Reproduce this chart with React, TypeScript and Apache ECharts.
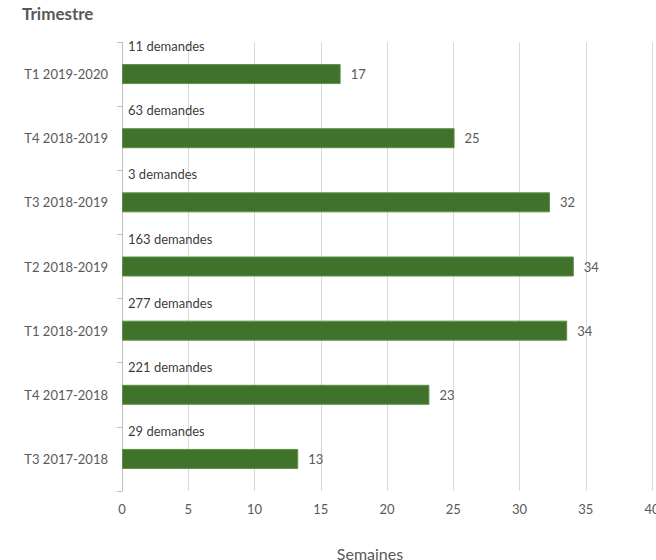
import React, { useEffect, useRef } from "react";
import * as echarts from "echarts";

const categories = [
  "T1 2019-2020",
  "T4 2018-2019",
  "T3 2018-2019",
  "T2 2018-2019",
  "T1 2018-2019",
  "T4 2017-2018",
  "T3 2017-2018",
];
const weeks = [16.5, 25.1, 32.3, 34.1, 33.6, 23.2, 13.3];
const requests = [11, 63, 3, 163, 277, 221, 29];
const xTicks = { min: 0, max: 40, interval: 5 };

const FONT = "Lato, 'Liberation Sans', sans-serif";

export default function App() {
  const ref = useRef<HTMLDivElement>(null);
  useEffect(() => {
    if (!ref.current) return;
    const chart = echarts.init(ref.current, undefined, { renderer: "svg" });
    chart.setOption({
      animation: false,
      textStyle: { fontFamily: FONT },
      grid: {
        left: 122,
        right: 4,
        top: 42,
        bottom: 69,
        containLabel: false,
        outerBoundsMode: "none",
      },
      xAxis: {
        type: "value",
        min: xTicks.min,
        max: xTicks.max,
        interval: xTicks.interval,
        axisLine: { show: false },
        axisTick: { show: false },
        axisLabel: { color: "#595959", fontSize: 13, margin: 11, fontFamily: FONT, hideOverlap: false },
        splitLine: { show: true, lineStyle: { color: "#d9d9d9", width: 1 } },
      },
      yAxis: {
        type: "category",
        data: categories,
        inverse: true,
        axisLine: { show: true, lineStyle: { color: "#bfbfbf" } },
        axisTick: { show: true, length: 5, lineStyle: { color: "#bfbfbf" } },
        axisLabel: { color: "#595959", fontSize: 13, margin: 14, fontFamily: FONT },
        splitLine: { show: false },
      },
      graphic: [
        {
          type: "text",
          left: 22,
          top: 5,
          style: {
            text: "Trimestre",
            fill: "#595959",
            font: `bold 17px ${FONT}`,
          },
        },
        {
          type: "text",
          x: 370,
          y: 545,
          style: {
            text: "Semaines",
            fill: "#595959",
            font: `16px ${FONT}`,
            textAlign: "center",
            textVerticalAlign: "top",
          },
        },
      ],
      series: [
        {
          type: "bar",
          data: weeks,
          barWidth: 20,
          itemStyle: { color: "#41722c", borderColor: "#5f8f48", borderWidth: 1 },
          label: {
            show: true,
            position: "right",
            distance: 10,
            color: "#595959",
            fontSize: 13,
            fontFamily: FONT,
            formatter: (p: any) => String(Math.round(p.value)),
          },
          z: 3,
        },
        {
          type: "scatter",
          data: requests.map((r, i) => ({ value: [0, categories[i]], req: r })),
          symbolSize: 0,
          silent: true,
          label: {
            show: true,
            position: "right",
            distance: 5,
            offset: [1, -28],
            color: "#000000",
            fontSize: 13,
            fontFamily: FONT,
            formatter: (p: any) => `${requests[p.dataIndex]} demandes`,
          },
          z: 4,
        },
      ],
    });
    return () => chart.dispose();
  }, []);
  return <div ref={ref} style={{ width: 656, height: 560, position: "absolute", left: 0, top: 0 }} />;
}
